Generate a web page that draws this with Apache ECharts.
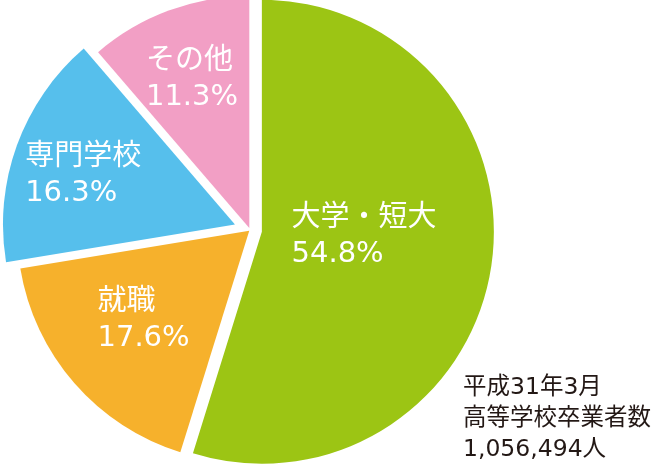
<!DOCTYPE html>
<html><head><meta charset="utf-8">
<script src="https://cdn.jsdelivr.net/npm/echarts@6/dist/echarts.min.js"></script>
<style>html,body{margin:0;padding:0;background:#fff}#c{width:656px;height:467px}</style>
</head><body><div id="c"></div>
<script>
const categories = ['大学・短大', '就職', '専門学校', 'その他'];
const shares = [54.8, 17.6, 16.3, 11.3];
const noteLines = ['平成31年3月', '高等学校卒業者数', '1,056,494人'];

const colors = ['#9cc514', '#f6b12c', '#56bfec', '#f29fc5'];
const explode = [12, 1, 16, 2];
const labelShift = [[-18, -13], [8, 12], [-28, -8], [8, -37]];
const FONT = "'DejaVu Sans','Noto Sans CJK JP',sans-serif";

const chart = echarts.init(document.getElementById('c'));
const series = categories.map((_, k) => ({
  type: 'pie',
  center: [250, 230],
  radius: [0, 232],
  startAngle: 90,
  clockwise: true,
  selectedMode: 'single',
  selectedOffset: explode[k],
  silent: true,
  animation: false,
  emphasis: { disabled: true },
  labelLine: { show: false },
  labelLayout: function () { return { dx: labelShift[k][0], dy: labelShift[k][1] }; },
  data: categories.map((name, i) => ({
    name: name,
    value: shares[i],
    selected: i === k,
    itemStyle: { color: i === k ? colors[i] : 'rgba(0,0,0,0)', borderWidth: 0 },
    label: i === k ? {
      show: true,
      position: 'inside',
      formatter: p => '{t|' + p.name + '}\n{t|' + p.value.toFixed(1) + '%}',
      rich: { t: { fontSize: 29, lineHeight: 36, width: 140, align: 'left', color: '#fff', fontFamily: FONT } }
    } : { show: false }
  }))
}));

chart.setOption({
  animation: false,
  backgroundColor: '#fff',
  series: series,
  graphic: [{
    type: 'text',
    left: 463,
    top: 372,
    style: {
      text: noteLines.join('\n'),
      fontSize: 23.5,
      lineHeight: 31,
      fontFamily: FONT,
      fill: '#231815'
    }
  }]
});
</script>
</body></html>
